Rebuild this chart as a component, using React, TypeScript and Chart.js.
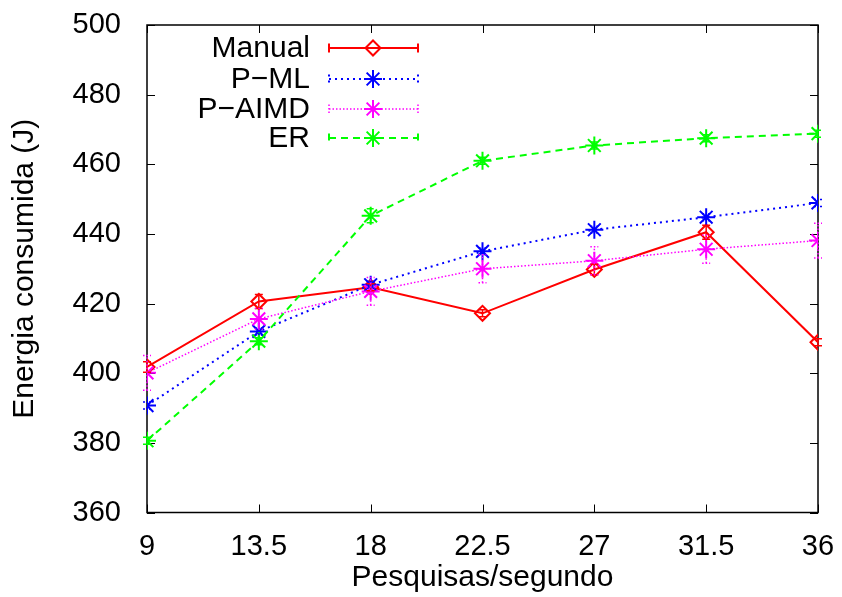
import React, { useEffect, useRef } from 'react';
import { Chart, registerables } from 'chart.js';

Chart.register(...registerables);

const xValues = [9, 13.5, 18, 22.5, 27, 31.5, 36];
const xTicks = [9, 13.5, 18, 22.5, 27, 31.5, 36];
const yTicks = [360, 380, 400, 420, 440, 460, 480, 500];

const seriesNames = ['Manual', 'P\u2212ML', 'P\u2212AIMD', 'ER'];
const manual = [401.8, 420.6, 424.7, 417.2, 429.8, 440.5, 408.9];
const manualErr = [1.5, 2, 1, 1, 1.5, 2, 1];
const pml = [390.7, 412.0, 425.4, 435.0, 441.2, 444.8, 448.9];
const pmlErr = [1, 1, 1, 1, 1, 1, 1];
const paimd = [400.1, 415.6, 423.5, 430.0, 432.3, 435.6, 438.1];
const paimdErr = [5, 3, 4, 4, 4, 4, 5];
const er = [380.6, 409.2, 445.2, 461.0, 465.4, 467.5, 468.8];
const erErr = [1, 1, 2, 1, 1, 1, 1];

const FONT = "'Liberation Sans', Arial, Helvetica, sans-serif";

function drawMarker(ctx: CanvasRenderingContext2D, style: string, x: number, y: number, r: number) {
  ctx.beginPath();
  if (style === 'rectRot') {
    ctx.moveTo(x - r, y);
    ctx.lineTo(x, y - r);
    ctx.lineTo(x + r, y);
    ctx.lineTo(x, y + r);
    ctx.closePath();
  } else {
    ctx.moveTo(x - r, y);
    ctx.lineTo(x + r, y);
    ctx.moveTo(x, y - r);
    ctx.lineTo(x, y + r);
    const d = r * Math.SQRT1_2;
    ctx.moveTo(x - d, y - d);
    ctx.lineTo(x + d, y + d);
    ctx.moveTo(x - d, y + d);
    ctx.lineTo(x + d, y - d);
  }
  ctx.stroke();
}

const framePlugin = {
  id: 'frame',
  beforeDatasetsDraw(chart: any) {
    const { ctx, chartArea } = chart;
    const { left, right, top, bottom } = chartArea;
    const xs = chart.scales.x;
    const ys = chart.scales.y;
    ctx.save();
    ctx.strokeStyle = '#000';
    ctx.lineWidth = 1.5;
    ctx.setLineDash([]);
    ctx.strokeRect(left, top, right - left, bottom - top);
    ctx.lineWidth = 1;
    const tl = 8;
    ctx.beginPath();
    yTicks.forEach((v) => {
      const py = Math.round(ys.getPixelForValue(v)) + 0.5;
      ctx.moveTo(left, py);
      ctx.lineTo(left + tl, py);
      ctx.moveTo(right, py);
      ctx.lineTo(right - tl, py);
    });
    xTicks.forEach((v) => {
      const px = Math.round(xs.getPixelForValue(v)) + 0.5;
      ctx.moveTo(px, bottom);
      ctx.lineTo(px, bottom - tl);
      ctx.moveTo(px, top);
      ctx.lineTo(px, top + tl);
    });
    ctx.stroke();
    ctx.restore();
  },
};

const errorBarPlugin = {
  id: 'errbars',
  afterDatasetsDraw(chart: any) {
    const { ctx } = chart;
    const xs = chart.scales.x;
    const ys = chart.scales.y;
    ctx.save();
    chart.data.datasets.forEach((ds: any) => {
      const errs: number[] = ds.errors;
      ctx.strokeStyle = ds.borderColor;
      ctx.lineWidth = 1.5;
      ctx.setLineDash(ds.borderDash || []);
      ds.data.forEach((pt: any, i: number) => {
        const px = xs.getPixelForValue(pt.x);
        const y1 = ys.getPixelForValue(pt.y - errs[i]);
        const y2 = ys.getPixelForValue(pt.y + errs[i]);
        ctx.beginPath();
        ctx.moveTo(px, y1);
        ctx.lineTo(px, y2);
        ctx.moveTo(px - 4, y1);
        ctx.lineTo(px + 4, y1);
        ctx.moveTo(px - 4, y2);
        ctx.lineTo(px + 4, y2);
        ctx.stroke();
      });
    });
    ctx.restore();
  },
};

const legendPlugin = {
  id: 'customLegend',
  afterDraw(chart: any) {
    const { ctx } = chart;
    const rows = [48, 79, 109, 138];
    const textRight = 310;
    const x1 = 329;
    const x2 = 418;
    const xm = 373;
    ctx.save();
    ctx.font = `30px ${FONT}`;
    ctx.textAlign = 'right';
    ctx.textBaseline = 'middle';
    [0, 1, 2, 3].forEach((idx, r) => {
      const ds = chart.data.datasets.find((d: any) => d.seriesIndex === idx);
      const y = rows[r];
      ctx.fillStyle = '#000';
      ctx.fillText(seriesNames[idx], textRight, y + 1);
      ctx.strokeStyle = ds.borderColor;
      ctx.lineWidth = ds.borderWidth;
      ctx.setLineDash(ds.borderDash || []);
      ctx.beginPath();
      ctx.moveTo(x1, y);
      ctx.lineTo(x2, y);
      ctx.moveTo(x1, y - 4.5);
      ctx.lineTo(x1, y + 4.5);
      ctx.moveTo(x2, y - 4.5);
      ctx.lineTo(x2, y + 4.5);
      ctx.stroke();
      ctx.setLineDash([]);
      ctx.lineWidth = ds.pointBorderWidth;
      drawMarker(ctx, ds.pointStyle, xm, y, ds.pointRadius);
    });
    ctx.restore();
  },
};

function toPoints(vals: number[]) {
  return vals.map((v, i) => ({ x: xValues[i], y: v }));
}

export default function App() {
  const canvasRef = useRef<HTMLCanvasElement | null>(null);

  useEffect(() => {
    document.body.style.margin = '0';
    const canvas = canvasRef.current;
    if (!canvas) return;
    const chart = new Chart(canvas, {
      type: 'line',
      data: {
        datasets: [
          {
            label: seriesNames[0],
            seriesIndex: 0,
            data: toPoints(manual),
            errors: manualErr,
            borderColor: '#ff0000',
            borderWidth: 2,
            borderDash: [],
            pointStyle: 'rectRot',
            pointRadius: 7.5,
            pointBorderWidth: 2,
            pointBackgroundColor: 'rgba(0,0,0,0)',
            pointBorderColor: '#ff0000',
            tension: 0,
            fill: false,
            order: 3,
          },
          {
            label: seriesNames[1],
            seriesIndex: 1,
            data: toPoints(pml),
            errors: pmlErr,
            borderColor: '#0000ff',
            borderWidth: 2,
            borderDash: [2, 4],
            pointStyle: 'star',
            pointRadius: 9,
            pointBorderWidth: 2,
            pointBackgroundColor: 'rgba(0,0,0,0)',
            pointBorderColor: '#0000ff',
            tension: 0,
            fill: false,
            order: 2,
          },
          {
            label: seriesNames[2],
            seriesIndex: 2,
            data: toPoints(paimd),
            errors: paimdErr,
            borderColor: '#ff00ff',
            borderWidth: 1.5,
            borderDash: [1.5, 2],
            pointStyle: 'star',
            pointRadius: 9,
            pointBorderWidth: 2,
            pointBackgroundColor: 'rgba(0,0,0,0)',
            pointBorderColor: '#ff00ff',
            tension: 0,
            fill: false,
            order: 1,
          },
          {
            label: seriesNames[3],
            seriesIndex: 3,
            data: toPoints(er),
            errors: erErr,
            borderColor: '#00ff00',
            borderWidth: 2,
            borderDash: [7, 5],
            pointStyle: 'star',
            pointRadius: 9,
            pointBorderWidth: 2,
            pointBackgroundColor: 'rgba(0,0,0,0)',
            pointBorderColor: '#00ff00',
            tension: 0,
            fill: false,
            order: 0,
          },
        ] as any,
      },
      options: {
        animation: false,
        responsive: false,
        maintainAspectRatio: false,
        devicePixelRatio: 1,
        layout: { padding: { left: 0, right: 24, top: 25, bottom: 0 } },
        plugins: {
          legend: { display: false },
          tooltip: { enabled: false },
          title: { display: false },
        },
        scales: {
          x: {
            type: 'linear',
            min: 9,
            max: 36,
            grid: { display: false },
            border: { display: false },
            afterBuildTicks: (scale: any) => {
              scale.ticks = xTicks.map((v) => ({ value: v }));
            },
            afterFit: (scale: any) => {
              scale.height = 84.5;
              scale.paddingLeft = 0;
              scale.paddingRight = 0;
            },
            ticks: {
              padding: 9,
              maxRotation: 0,
              autoSkip: false,
              color: '#000',
              font: { family: FONT, size: 29 },
              callback: (v: any) => String(v),
            },
            title: {
              display: true,
              text: 'Pesquisas/segundo',
              color: '#000',
              font: { family: FONT, size: 30 },
              padding: { top: 0, bottom: 1 },
            },
          },
          y: {
            type: 'linear',
            min: 360,
            max: 500,
            grid: { display: false },
            border: { display: false },
            afterBuildTicks: (scale: any) => {
              scale.ticks = yTicks.map((v) => ({ value: v }));
            },
            afterFit: (scale: any) => {
              scale.width = 147;
              scale.paddingTop = 0;
              scale.paddingBottom = 0;
            },
            ticks: {
              padding: 18,
              color: '#000',
              font: { family: FONT, size: 29 },
              callback: (v: any) => String(v),
            },
            title: {
              display: true,
              text: 'Energia consumida (J)',
              color: '#000',
              font: { family: FONT, size: 30 },
              padding: { top: 7, bottom: 0 },
            },
          },
        },
      } as any,
      plugins: [framePlugin, errorBarPlugin, legendPlugin],
    });
    return () => chart.destroy();
  }, []);

  return (
    <div style={{ width: 842, height: 597, background: '#fff' }}>
      <canvas ref={canvasRef} width={842} height={597} style={{ display: 'block' }} />
    </div>
  );
}
